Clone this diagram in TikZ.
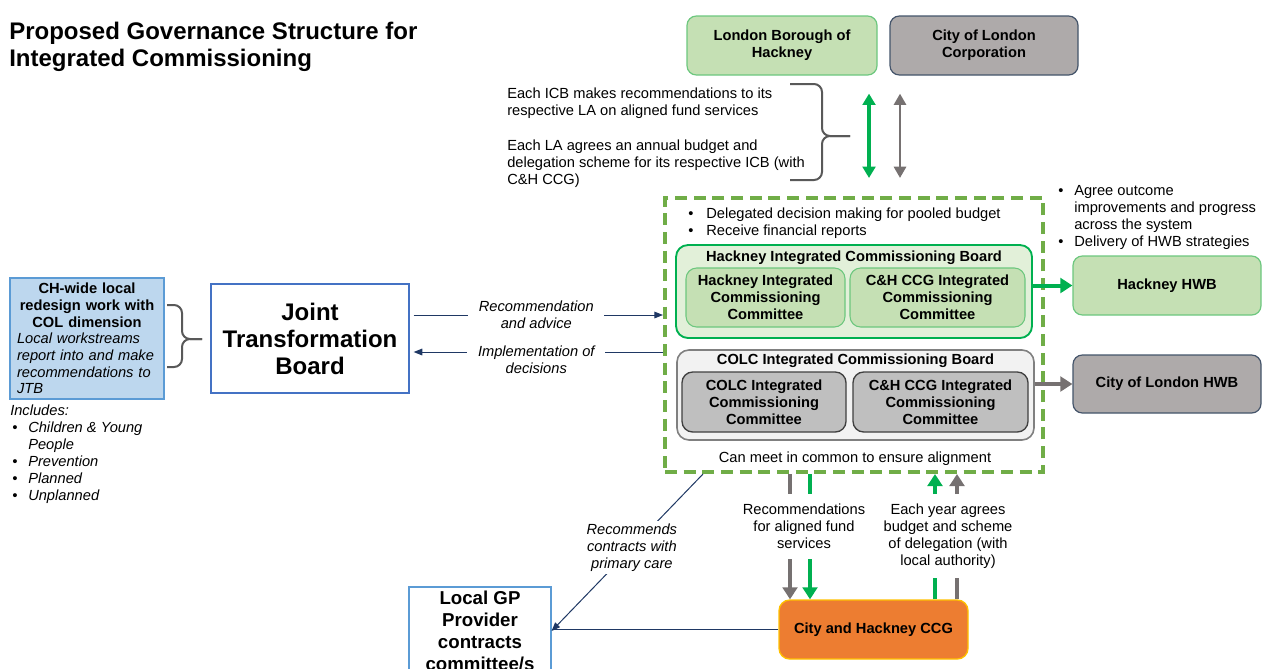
\documentclass[tikz,border=0pt]{standalone}
\usepackage{fontspec}
\setmainfont{Liberation Sans}
\usetikzlibrary{arrows.meta}

\definecolor{leafFill}{HTML}{C5E0B4}
\definecolor{leafLine}{HTML}{6CC77E}
\definecolor{paleLeaf}{HTML}{E2F0D9}
\definecolor{vivid}{HTML}{00B050}
\definecolor{dashLeaf}{HTML}{70AD47}
\definecolor{stone}{HTML}{AEAAAA}
\definecolor{slate}{HTML}{44546A}
\definecolor{mist}{HTML}{F2F2F2}
\definecolor{ash}{HTML}{BFBFBF}
\definecolor{charcoal}{HTML}{404040}
\definecolor{pebble}{HTML}{767171}
\definecolor{navy}{HTML}{1F3864}
\definecolor{sky}{HTML}{BDD7EE}
\definecolor{skyLine}{HTML}{5B9BD5}
\definecolor{royal}{HTML}{4472C4}
\definecolor{ember}{HTML}{ED7D31}
\definecolor{amber}{HTML}{FFC000}
\definecolor{braceGrey}{HTML}{595959}

\begin{document}
\begin{tikzpicture}[x=0.75pt, y=-0.75pt,
        every node/.style={font=\fontsize{11}{12.75}\selectfont, align=center, inner sep=0pt}]
        \tikzstyle{leafBox} = [draw=leafLine, fill=leafFill, rounded corners=7pt, line width=0.9pt, minimum height=44.25pt, font=\fontsize{11}{12.75}\selectfont\bfseries]
        \tikzstyle{stoneBox} = [draw=slate, fill=stone, rounded corners=7pt, line width=0.9pt, minimum height=44.25pt, font=\fontsize{11}{12.75}\selectfont\bfseries]
        \tikzstyle{poolBox} = [draw=dashLeaf, line width=3pt, dash pattern=on 9pt off 5pt]
        \tikzstyle{hicbBox} = [draw=vivid, fill=paleLeaf, rounded corners=9pt, line width=1.4pt]
        \tikzstyle{colcBox} = [draw=gray, fill=mist, rounded corners=9pt, line width=1.2pt]
        \tikzstyle{leafInner} = [draw=leafLine, fill=leafFill, rounded corners=8pt, line width=0.8pt, minimum height=44.25pt, font=\fontsize{11}{12.75}\selectfont\bfseries]
        \tikzstyle{ashInner} = [draw=charcoal, fill=ash, rounded corners=8pt, line width=1pt, minimum height=45pt, font=\fontsize{11}{12.75}\selectfont\bfseries]
        \tikzstyle{boardTitle} = [font=\fontsize{11}{12.75}\selectfont\bfseries]
        \tikzstyle{skyBox} = [draw=skyLine, fill=sky, line width=1pt, font=\fontsize{11}{12.5}\selectfont]
        \tikzstyle{jtbBox} = [draw=royal, fill=white, line width=0.9pt, font=\fontsize{18}{20.25}\selectfont\bfseries]
        \tikzstyle{gpBox} = [draw=skyLine, fill=white, line width=0.9pt, font=\fontsize{14}{16.5}\selectfont\bfseries]
        \tikzstyle{ccgBox} = [draw=amber, fill=ember, rounded corners=8pt, line width=1pt, minimum height=44.25pt, font=\fontsize{11}{12.75}\selectfont\bfseries]
        \tikzstyle{lbl} = [fill=white, inner xsep=8pt, inner ysep=2pt, font=\fontsize{11}{12.75}\selectfont\itshape]
        \tikzstyle{plainLbl} = [font=\fontsize{11}{12.75}\selectfont]
        \tikzstyle{thinArrow} = [draw=navy, line width=0.75pt, -{Triangle[width=5pt,length=6.5pt]}]
        \tikzstyle{thinLine} = [draw=navy, line width=0.75pt]
        \tikzstyle{greenArrow} = [draw=vivid, line width=3pt, -{Triangle[width=11pt,length=9pt]}]
        \tikzstyle{greyArrow} = [draw=pebble, line width=3pt, -{Triangle[width=11pt,length=9pt]}]
        \tikzstyle{greenStub} = [draw=vivid, line width=3pt]
        \tikzstyle{greyStub} = [draw=pebble, line width=3pt]
        \tikzstyle{greenBoth} = [draw=vivid, line width=2.4pt, {Triangle[width=9.5pt,length=8.5pt]}-{Triangle[width=9.5pt,length=8.5pt]}]
        \tikzstyle{greyBoth} = [draw=pebble, line width=2.2pt, {Triangle[width=9pt,length=8.5pt]}-{Triangle[width=9pt,length=8.5pt]}]
        \tikzstyle{braceLine} = [draw=braceGrey, line width=1.5pt, rounded corners=6pt]

        \useasboundingbox (0,0) rectangle (1262,668);

        % title
        \node[anchor=north west, align=left, font=\fontsize{18}{20.25}\selectfont\bfseries] (title) at (9,22)
            {Proposed Governance Structure for\\Integrated Commissioning};

        % local authorities
        \node[leafBox, minimum width=142.5pt] (lbh) at (782,45.5) {London Borough of\\Hackney};
        \node[stoneBox, minimum width=141pt] (col) at (984,45.5) {City of London\\Corporation};
        \node[anchor=west, align=left] (icbRec) at (507,103.5)
            {Each ICB makes recommendations to its\\respective LA on aligned fund services};
        \node[anchor=west, align=left] (laAgree) at (507,164)
            {Each LA agrees an annual budget and\\delegation scheme for its respective ICB (with\\C\&H CCG)};
        \draw[braceLine] (790,84) -| (822,136) -- (850,136);
        \draw[braceLine] (790,180) -| (822,136) -- (850,136);

        % pooled budget area
        \node[poolBox, minimum width=283.5pt, minimum height=205.5pt] (pool) at (854,335) {};
        \node[anchor=west, align=left] (poolNotes) at (688,223.5)
            {\makebox[13.5pt][l]{\textbullet}Delegated decision making for pooled budget\\
             \makebox[13.5pt][l]{\textbullet}Receive financial reports};
        \node[hicbBox, minimum width=267pt, minimum height=69.75pt] (hicb) at (854,291.5) {};
        \node[boardTitle] (hicbTitle) at (854,258) {Hackney Integrated Commissioning Board};
        \node[leafInner, minimum width=119.25pt] (hicL) at (765.5,297.5) {Hackney Integrated\\Commissioning\\Committee};
        \node[leafInner, minimum width=131.25pt] (hicR) at (937.5,297.5) {C\&H CCG Integrated\\Commissioning\\Committee};
        \node[colcBox, minimum width=267.75pt, minimum height=67.5pt] (colcb) at (855.5,395) {};
        \node[boardTitle] (colcbTitle) at (855.5,361) {COLC Integrated Commissioning Board};
        \node[ashInner, minimum width=123pt] (colL) at (764,402) {COLC Integrated\\Commissioning\\Committee};
        \node[ashInner, minimum width=131.25pt] (colR) at (940.5,402) {C\&H CCG Integrated\\Commissioning\\Committee};
        \node (poolFoot) at (855,459) {Can meet in common to ensure alignment};

        \coordinate (lbhX) at (869,0);
        \coordinate (colX) at (900,0);
        \draw[greenBoth, shorten <=13.5pt, shorten >=13.5pt] (lbh.south -| lbhX) -- (pool.north -| lbhX);
        \draw[greyBoth, shorten <=13.5pt, shorten >=13.5pt] (col.south -| colX) -- (pool.north -| colX);

        % health and wellbeing boards
        \node[anchor=west, align=left] (hwbNotes) at (1058,217)
            {\makebox[12pt][l]{\textbullet}Agree outcome\\
             \hspace*{12pt}improvements and progress\\
             \hspace*{12pt}across the system\\
             \makebox[12pt][l]{\textbullet}Delivery of HWB strategies};
        \node[leafBox, minimum width=141pt] (hwb) at (1167,285.5) {Hackney HWB};
        \node[stoneBox, minimum width=141pt, minimum height=43.5pt] (colHwb) at (1167,384) {City of London HWB};
        \draw[greenArrow] (hicb.east |- hwb.west) -- (hwb.west);
        \draw[greyArrow] (colcb.east |- colHwb.west) -- (colHwb.west);

        % joint transformation board
        \node[skyBox, minimum width=115.5pt, minimum height=90.75pt, text width=105pt, align=left] (ch) at (87,338.5)
            {{\centering\bfseries CH-wide local\\redesign work with\\COL dimension\par}%
             \itshape Local workstreams\\report into and make\\recommendations to\\JTB};
        \draw[braceLine] (167,305) -| (182,339) -- (202,339);
        \draw[braceLine] (167,367) -| (182,339) -- (202,339);
        \node[anchor=west, align=left, font=\fontsize{11}{12.75}\selectfont\itshape] (incl) at (10,454)
            {Includes:\\
             \hspace*{1.5pt}\makebox[12pt][l]{\textbullet}Children \& Young\\
             \hspace*{13.5pt}People\\
             \hspace*{1.5pt}\makebox[12pt][l]{\textbullet}Prevention\\
             \hspace*{1.5pt}\makebox[12pt][l]{\textbullet}Planned\\
             \hspace*{1.5pt}\makebox[12pt][l]{\textbullet}Unplanned};
        \node[jtbBox, minimum width=148.5pt, minimum height=81.75pt] (jtb) at (310,338.5) {Joint\\Transformation\\Board};

        \coordinate (recY) at (0,315);
        \coordinate (impY) at (0,352);
        \draw[thinArrow, shorten <=3pt] (jtb.east |- recY) -- node[lbl] {Recommendation\\and advice} (pool.west |- recY);
        \draw[thinArrow, shorten >=3pt] (pool.west |- impY) -- node[lbl, yshift=-5.6pt] {Implementation of\\decisions} (jtb.east |- impY);

        % CCG and primary care
        \node[gpBox, minimum width=106.5pt, minimum height=66pt] (gp) at (480,631) {Local GP\\Provider\\contracts\\committee/s};
        \node[ccgBox, minimum width=141.75pt] (ccg) at (873.5,629.5) {City and Hackney CCG};
        \draw[thinLine] (ccg.west) -- (gp.east |- ccg.west);
        \draw[thinArrow] ([xshift=30pt]pool.south west) -- node[lbl, pos=0.47, inner xsep=3pt] {Recommends\\contracts with\\primary care} (gp.east);

        \node[plainLbl, minimum height=48.75pt] (recFund) at (804,526.5) {Recommendations\\for aligned fund\\services};
        \node[plainLbl, minimum height=62.25pt] (yearDel) at (948,536) {Each year agrees\\budget and scheme\\of delegation (with\\local authority)};
        \coordinate (dnGrey) at (790,0);
        \coordinate (dnGreen) at (810,0);
        \coordinate (upGreen) at (935,0);
        \coordinate (upGrey) at (957,0);
        \draw[greyStub] (pool.south -| dnGrey) -- (recFund.north -| dnGrey);
        \draw[greyArrow] (recFund.south -| dnGrey) -- (ccg.north -| dnGrey);
        \draw[greenStub] (pool.south -| dnGreen) -- (recFund.north -| dnGreen);
        \draw[greenArrow] (recFund.south -| dnGreen) -- (ccg.north -| dnGreen);
        \draw[greenStub] (ccg.north -| upGreen) -- (yearDel.south -| upGreen);
        \draw[greenArrow] (yearDel.north -| upGreen) -- (pool.south -| upGreen);
        \draw[greyStub] (ccg.north -| upGrey) -- (yearDel.south -| upGrey);
        \draw[greyArrow] (yearDel.north -| upGrey) -- (pool.south -| upGrey);

    \end{tikzpicture}
\end{document}
